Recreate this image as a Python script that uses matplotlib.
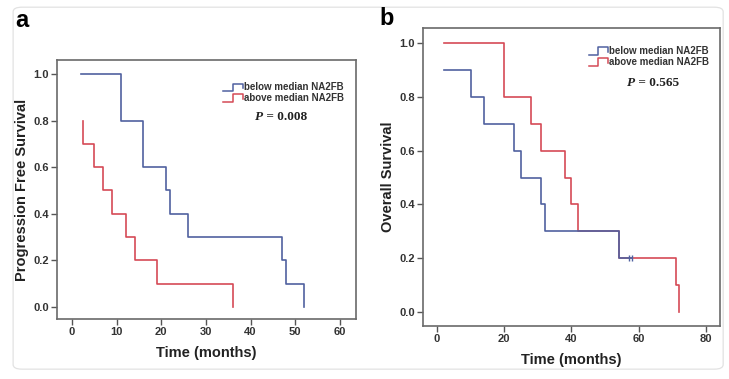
import matplotlib
matplotlib.use("Agg")
import matplotlib.pyplot as plt
from matplotlib.patches import FancyBboxPatch

# panel a: progression free survival
pfs_below_t = [2, 11, 16, 21, 22, 26, 47, 48, 52]
pfs_below_s = [1.0, 0.8, 0.6, 0.5, 0.4, 0.3, 0.2, 0.1, 0.0]
pfs_above_t = [2.5, 2.5, 5, 7, 9, 12, 14, 19, 36]
pfs_above_s = [0.8, 0.7, 0.6, 0.5, 0.4, 0.3, 0.2, 0.1, 0.0]

# panel b: overall survival
os_below_t = [2, 10, 14, 23, 25, 31, 32, 54, 58]
os_below_s = [0.9, 0.8, 0.7, 0.6, 0.5, 0.4, 0.3, 0.2, 0.2]
os_below_cens_t = [57, 58]
os_below_cens_s = [0.2, 0.2]
os_above_t = [2, 20, 28, 31, 38, 40, 42, 54, 71, 72]
os_above_s = [1.0, 0.8, 0.7, 0.6, 0.5, 0.4, 0.3, 0.2, 0.1, 0.0]

labels = ["below median NA2FB", "above median NA2FB"]
BLUE = "#5061a0"
RED = "#d54a56"

plt.rcParams["font.family"] = ["Liberation Sans", "DejaVu Sans"]

fig = plt.figure(figsize=(7.29, 3.79), dpi=100, facecolor="white")
fig.patches.append(FancyBboxPatch((0.018, 0.026), 0.974, 0.955,
                                  boxstyle="round,pad=0,rounding_size=0.012",
                                  transform=fig.transFigure, facecolor="none",
                                  edgecolor="#e2e2e2", linewidth=0.9, zorder=-5))

ax_a = fig.add_axes([0.0782, 0.1583, 0.410, 0.6834])
ax_b = fig.add_axes([0.5802, 0.1398, 0.4074, 0.7863])


def style(ax, xticks, xlim, ylim, ylabel):
    ax.set_facecolor("none")
    ax.set_xlim(*xlim)
    ax.set_ylim(*ylim)
    ax.set_xticks(xticks)
    ax.set_yticks([0.0, 0.2, 0.4, 0.6, 0.8, 1.0])
    ax.set_yticklabels(["0.0", "0.2", "0.4", "0.6", "0.8", "1.0"])
    for sp in ax.spines.values():
        sp.set_color("#6a6a6a")
        sp.set_linewidth(1.2)
    ax.tick_params(length=4, width=1.0, color="#555555", pad=2,
                   labelsize=8, labelcolor="#333333")
    for lab in ax.get_xticklabels() + ax.get_yticklabels():
        lab.set_fontweight("bold")
    ax.set_xlabel("Time (months)", fontsize=10.5, fontweight="bold",
                  color="#222222", labelpad=6)
    ax.set_ylabel(ylabel, fontsize=10.5, fontweight="bold",
                  color="#222222", labelpad=3)


def legend(ax, x0, x1, y1, y2, ptext, px, py):
    for y, col, lab in [(y1, BLUE, labels[0]), (y2, RED, labels[1])]:
        xm = x0 + (x1 - x0) * 0.5
        ax.plot([x0, xm, xm, x1, x1], [y - 0.014, y - 0.014, y + 0.014, y + 0.014, y - 0.004],
                color=col, lw=1.1, transform=ax.transAxes, clip_on=False)
        ax.text(x1 + 0.004, y, lab, transform=ax.transAxes, fontsize=7,
                fontweight="bold", color="#333333", va="center", ha="left")
    t = ax.text(px, py, "P", transform=ax.transAxes, fontsize=9.5,
                fontweight="bold", style="italic", family="Liberation Serif",
                color="#222222", ha="right", va="center")
    ax.annotate(" = " + ptext, xy=(1, 0), xycoords=t, fontsize=9.5,
                fontweight="bold", family="Liberation Serif", color="#222222",
                ha="left", va="bottom")


ax_a.step(pfs_below_t, pfs_below_s, where="post", color=BLUE, lw=1.2)
ax_a.step(pfs_above_t, pfs_above_s, where="post", color=RED, lw=1.2)
style(ax_a, [0, 10, 20, 30, 40, 50, 60], (-3.36, 63.58), (-0.0515, 1.06),
      "Progression Free Survival")
legend(ax_a, 0.555, 0.622, 0.895, 0.853, "0.008", 0.69, 0.779)

ax_b.step(os_above_t, os_above_s, where="post", color=RED, lw=1.2)
ax_b.step(os_below_t, os_below_s, where="post", color=BLUE, lw=1.2)
ax_b.plot(os_below_cens_t, os_below_cens_s, ls="none", marker="|",
          markersize=5, color=BLUE, markeredgewidth=1.0)
style(ax_b, [0, 20, 40, 60, 80], (-4.16, 84.16), (-0.052, 1.0558),
      "Overall Survival")
legend(ax_b, 0.558, 0.622, 0.923, 0.886, "0.565", 0.715, 0.816)

fig.text(0.021, 0.945, "a", fontsize=17, fontweight="bold", va="center")
fig.text(0.521, 0.950, "b", fontsize=17, fontweight="bold", va="center")

fig.savefig("out.png", dpi=100)
